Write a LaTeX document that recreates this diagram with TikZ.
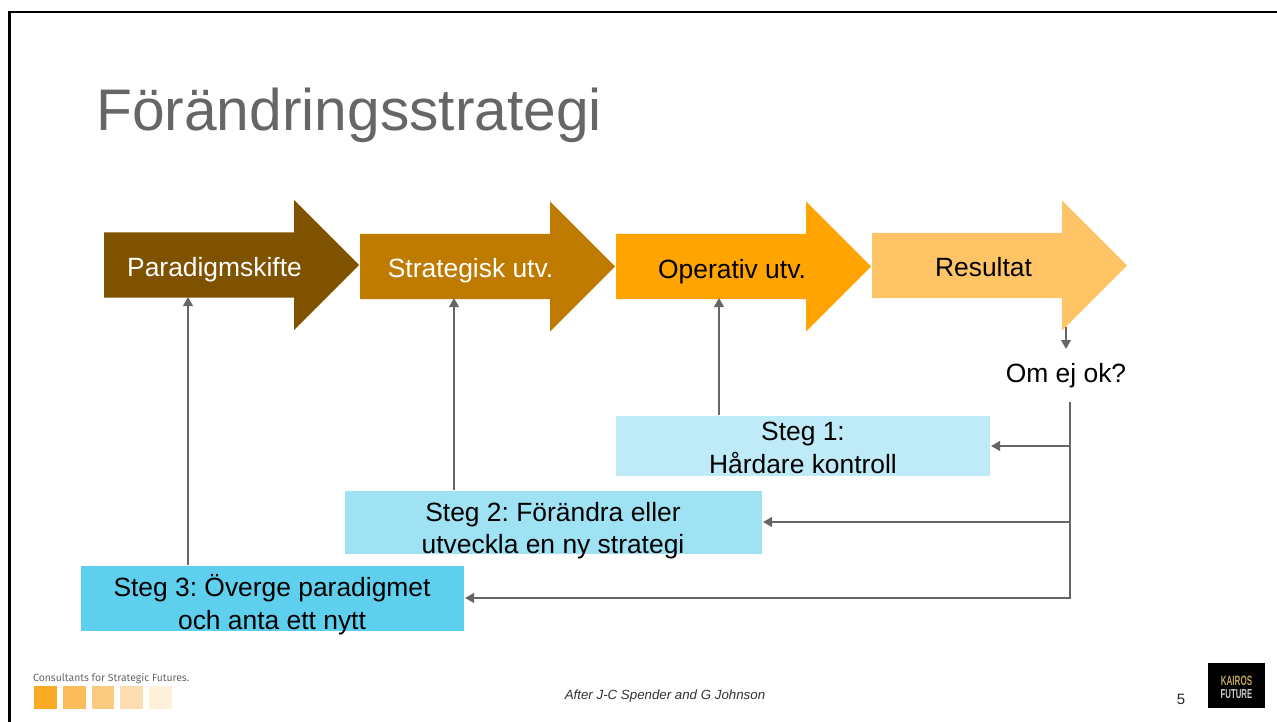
\documentclass[tikz,border=0pt]{standalone}
\usepackage{fontspec}
\setmainfont{Liberation Sans}
\newfontfamily\footfont{Fira Sans}
\usetikzlibrary{arrows.meta}
\definecolor{arA}{HTML}{7F5200}
\definecolor{arB}{HTML}{BF7B00}
\definecolor{arC}{HTML}{FFA400}
\definecolor{arD}{HTML}{FFC466}
\definecolor{bxA}{HTML}{BFEAF7}
\definecolor{bxB}{HTML}{9FE2F3}
\definecolor{bxC}{HTML}{5FCFEE}
\definecolor{ln}{HTML}{666666}
\definecolor{sqA}{HTML}{F9AB25}
\definecolor{sqB}{HTML}{FBBC5B}
\definecolor{sqC}{HTML}{FCCB82}
\definecolor{sqD}{HTML}{FDDDAF}
\definecolor{sqE}{HTML}{FEF0DA}
\definecolor{gold}{RGB}{190,165,90}
\tikzset{
  x=1pt,y=-1pt,
  fs/.style={font=\fontsize{#1}{#1}\selectfont},
  arlabel/.style={fs=26.4,inner sep=0pt,anchor=base},
  boxtxt/.style={fs=26.4,inner sep=0pt,anchor=base,text=black},
  conn/.style={draw=ln,line width=2.8pt,-{Triangle[length=9pt,width=9.5pt]}},
  plain/.style={draw=ln,line width=2.8pt},
  sq/.style={inner sep=0pt,outer sep=0pt,minimum size=22.5pt,anchor=north west},
  logotxt/.style={inner sep=0pt,anchor=base},
}
\newcommand{\bigarrow}[8]{% name, x, ytop of body, colour, label, label colour, label centre, label baseline
  \fill[#4] (#2,#3) -- ++(190,0) -- ++(0,-32.5) -- ++(65,65) -- ++(-65,65) -- ++(0,-32.5) -- ++(-190,0) -- cycle;
  \node[arlabel,text=#6] (#1) at (#7,#8) {#5};
}
\frenchspacing
\begin{document}
\begin{tikzpicture}
\useasboundingbox (0,0) rectangle (1277,722);
\fill[white] (0,0) rectangle (1277,722);
\draw[black,line width=2.8pt] (9.5,760) -- (9.5,12) -- (1300,12);
\node[fs=58.7,text=ln,inner sep=0pt,anchor=base west] (title) at (96,131) {Förändringsstrategi};
\bigarrow{a1}{104}{232.5}{arA}{Paradigmskifte}{white}{214.5}{276.5}
\bigarrow{a2}{360}{234}{arB}{Strategisk utv.}{white}{470.5}{277.5}
\bigarrow{a3}{616}{234}{arC}{Operativ utv.}{black}{732}{278.5}
\bigarrow{a4}{872}{233}{arD}{Resultat}{black}{983.5}{276.5}
\coordinate (a1b) at (188,297);
\coordinate (a2b) at (454,298);
\coordinate (a3b) at (719,298);
\coordinate (a4b) at (1066,327);
% boxes
\fill[bxA] (616,416) rectangle (990,476);
\fill[bxB] (345,491) rectangle (762,554);
\fill[bxC] (81,566) rectangle (464,631);
\coordinate (s1top) at (719,415);
\coordinate (s2top) at (454,490);
\coordinate (s3top) at (188,565);
\coordinate (s1r) at (991,446);
\coordinate (s2r) at (763,522);
\coordinate (s3r) at (465,598);
\node[boxtxt] (t1a) at (803,440) {Steg 1:};
\node[boxtxt] (t1b) at (803,473) {Hårdare kontroll};
\node[boxtxt] (t2a) at (553,521) {Steg 2: Förändra eller};
\node[boxtxt] (t2b) at (553,553) {utveckla en ny strategi};
\node[boxtxt] (t3a) at (272,596) {Steg 3: Överge paradigmet};
\node[boxtxt] (t3b) at (272,629) {och anta ett nytt};
\node[boxtxt] (ok) at (1066,382) {Om ej ok?};
% connectors
\draw[conn] (s1top) -- (a3b);
\draw[conn] (s2top) -- (a2b);
\draw[conn] (s3top) -- (a1b);
\draw[conn] (a4b) -- (1066,349);
\coordinate (v) at (1070,402);
\coordinate (vb) at (1070,598);
\draw[plain] (v) -- (vb);
\draw[conn] (1071,446) -- (s1r);
\draw[conn] (1071,522) -- (s2r);
\draw[conn] (1071.4,598) -- (s3r);
% footer
\node[fs=10.4,text=ln,inner sep=0pt,anchor=base west] (cons) at (33,681) {\footfont Consultants for Strategic Futures.};
\node[sq,fill=sqA] (q1) at (34,686) {};
\node[sq,fill=sqB] (q2) at (63,686) {};
\node[sq,fill=sqC] (q3) at (91.5,686) {};
\node[sq,fill=sqD] (q4) at (120,686) {};
\node[sq,fill=sqE] (q5) at (149,686) {};
\node[fs=13.3,inner sep=0pt,anchor=base,text=black!80] (src) at (665,699) {\itshape After J-C Spender and G Johnson};
\node[fs=15,inner sep=0pt,anchor=base,text=black!85] (pg) at (1181,704) {5};
\fill[black] (1208,663) rectangle (1265,708);
\node[logotxt,text=gold] (k1) at (1236.5,685.5) {\scalebox{0.6}[1]{\fontsize{13.5}{13.5}\selectfont\bfseries KAIROS}};
\node[logotxt,text=black!20] (k2) at (1236.5,698) {\scalebox{0.6}[1]{\fontsize{13}{13}\selectfont\bfseries FUTURE}};
\end{tikzpicture}
\end{document}
